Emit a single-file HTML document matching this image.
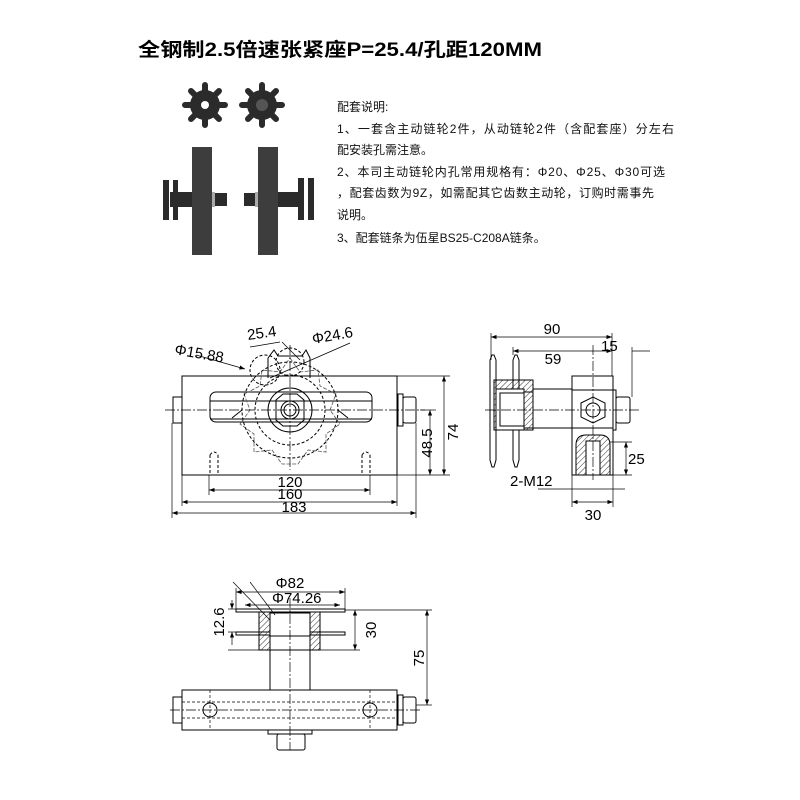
<!DOCTYPE html>
<html><head><meta charset="utf-8"><style>
html,body{margin:0;padding:0;background:#fff;width:800px;height:800px;overflow:hidden}
svg{display:block}
.t{font-family:"Liberation Sans","Noto Sans CJK SC",sans-serif}
.d{font-family:"Liberation Sans",sans-serif;font-size:15px;fill:#000}
</style></head><body>
<svg width="800" height="800" viewBox="0 0 800 800" xmlns="http://www.w3.org/2000/svg">
<defs>
<pattern id="h" width="4" height="4" patternUnits="userSpaceOnUse" patternTransform="rotate(45)"><line x1="0" y1="0" x2="0" y2="4" stroke="#000" stroke-width="0.8"/></pattern>
<marker id="a" markerWidth="8" markerHeight="6" refX="8" refY="3" orient="auto-start-reverse"><path d="M0,0 L8,3 L0,6z" fill="#000"/></marker>
</defs>
<text class="t" x="138" y="56" font-size="19" font-weight="bold" textLength="404" lengthAdjust="spacingAndGlyphs">全钢制2.5倍速张紧座P=25.4/孔距120MM</text>
<g class="t" font-size="12" fill="#111">
<text x="337" y="111">配套说明:</text>
<text x="337" y="133" textLength="337">1、一套含主动链轮2件，从动链轮2件（含配套座）分左右</text>
<text x="337" y="154">配安装孔需注意。</text>
<text x="337" y="176" textLength="328">2、本司主动链轮内孔常用规格有：Φ20、Φ25、Φ30可选</text>
<text x="337" y="197" textLength="317">，配套齿数为9Z，如需配其它齿数主动轮，订购时需事先</text>
<text x="337" y="219">说明。</text>
<text x="337" y="242">3、配套链条为伍星BS25-C208A链条。</text>
</g>
<!-- photos -->
<g fill="#2b2b2b">
<circle cx="205" cy="105" r="15"/><circle cx="262" cy="105" r="15"/>
<g stroke="#2b2b2b" stroke-width="6" stroke-linecap="round">
<path d="M205 85v40M185 105h40M191 91l28 28M219 91l-28 28M262 85v40M242 105h40M248 91l28 28M276 91l-28 28"/></g>
<circle cx="205" cy="105" r="4" fill="#fff"/><circle cx="262" cy="105" r="6" fill="#555"/>
<rect x="192" y="147" width="20" height="108" fill="#3d3d3d"/>
<rect x="258" y="147" width="20" height="108" fill="#3d3d3d"/>
<rect x="170" y="192" width="22" height="15"/><rect x="278" y="192" width="24" height="15"/>
<rect x="163" y="180" width="6" height="40"/><rect x="173" y="180" width="5" height="40"/>
<rect x="298" y="178" width="6" height="42"/><rect x="308" y="178" width="6" height="42"/>
<rect x="215" y="193" width="12" height="13"/><rect x="244" y="193" width="12" height="13"/>
<rect x="212" y="192" width="3" height="15" fill="#aaa"/><rect x="255" y="192" width="3" height="15" fill="#aaa"/>
</g>
<!-- FRONT VIEW -->
<g fill="none" stroke="#000" stroke-width="1">
<rect x="182" y="376" width="215" height="99"/>
<rect x="210" y="392" width="162" height="30" rx="6"/>
<line x1="210" y1="401" x2="372" y2="401"/><line x1="210" y1="419" x2="372" y2="419"/>
<rect x="173" y="397" width="9" height="26"/>
<rect x="398" y="394" width="5" height="32"/><rect x="403" y="397" width="13" height="26" rx="2"/>
<polygon points="276,400 283,394 297,394 304,400 304,420 297,426 283,426 276,420"/>
<circle cx="290" cy="410" r="9"/><circle cx="290" cy="410" r="6"/>
<circle cx="290" cy="410" r="22"/>
<g stroke="#555" stroke-width="0.8">
<path d="M290 358 L300 372 L318 370 L320 386 L336 394 L330 410 L340 424 L326 434 L326 452 L308 450 L298 464 L282 464 L272 450 L254 452 L254 434 L240 424 L250 410 L244 394 L260 386 L262 370 L280 372 Z" stroke-dasharray="4,1.5"/>
</g>
<g stroke-dasharray="3,2">
<circle cx="290" cy="410" r="35"/><circle cx="290" cy="410" r="48"/>
<circle cx="265" cy="370" r="15"/><circle cx="290" cy="362" r="14"/>
<path d="M210 455v20M218 455v20M362 455v20M370 455v20M210 455q4-6 8 0M362 455q4-6 8 0"/>
</g>
<path d="M268 358l6-8 4 6h24l4-6 4 8 0 20M268 358v20"/>
<path d="M232 418l10-8M348 418l-10-8"/>
<g stroke-dasharray="10,2,2,2" stroke-width="0.7"><line x1="165" y1="410" x2="425" y2="410"/><line x1="290" y1="345" x2="290" y2="470"/></g>
<g stroke-width="0.7">
<line x1="209" y1="475" x2="209" y2="495"/><line x1="370" y1="475" x2="370" y2="495"/>
<line x1="182" y1="475" x2="182" y2="506"/><line x1="397" y1="475" x2="397" y2="506"/>
<line x1="172" y1="423" x2="172" y2="518"/><line x1="416" y1="423" x2="416" y2="518"/>
<line x1="209" y1="490" x2="370" y2="490" marker-start="url(#a)" marker-end="url(#a)"/>
<line x1="182" y1="502" x2="397" y2="502" marker-start="url(#a)" marker-end="url(#a)"/>
<line x1="172" y1="513" x2="416" y2="513" marker-start="url(#a)" marker-end="url(#a)"/>
<line x1="397" y1="376" x2="450" y2="376"/><line x1="397" y1="475" x2="450" y2="475"/>
<line x1="420" y1="410" x2="436" y2="410"/>
<line x1="444" y1="376" x2="444" y2="475" marker-start="url(#a)" marker-end="url(#a)"/>
<line x1="430" y1="410" x2="430" y2="475" marker-start="url(#a)" marker-end="url(#a)"/>
<line x1="196" y1="355" x2="245" y2="369" marker-end="url(#a)"/>
<line x1="250" y1="347" x2="280" y2="342"/><line x1="282" y1="342" x2="300" y2="360"/>
<line x1="270" y1="378" x2="350" y2="343"/>
</g>
</g>
<text class="d" x="174" y="354" transform="rotate(10 174 354)">Φ15.88</text>
<text class="d" x="248" y="340" transform="rotate(-8 248 340)">25.4</text>
<text class="d" x="313" y="344" transform="rotate(-10 313 344)">Φ24.6</text>
<text class="d" x="290" y="487" text-anchor="middle">120</text>
<text class="d" x="290" y="499" text-anchor="middle">160</text>
<text class="d" x="294" y="512" text-anchor="middle">183</text>
<text class="d" transform="translate(432 443) rotate(-90)" text-anchor="middle">48.5</text>
<text class="d" transform="translate(458 432) rotate(-90)" text-anchor="middle">74</text>
<!-- SIDE VIEW -->
<g fill="none" stroke="#000" stroke-width="1">
<path d="M490 360l2-5h2l2 5v100l-2 7h-2l-2-7z"/><path d="M513 360l2-5h2l2 5v100l-2 7h-2l-2-7z"/>
<path d="M494 380h39v50h-39z" fill="url(#h)"/>
<rect x="496" y="389" width="28" height="41" fill="#fff"/>
<rect x="500" y="393" width="24" height="33" fill="#fff"/>
<rect x="524" y="392" width="9" height="36"/>
<rect x="533" y="389" width="39" height="39"/>
<rect x="572" y="376" width="41" height="99"/>
<line x1="572" y1="390" x2="613" y2="390"/><line x1="572" y1="428" x2="613" y2="428"/>
<path d="M576 475v-30q0-10 10-10h14q10 0 10 10v30z" fill="url(#h)"/>
<rect x="586" y="441" width="14" height="34" fill="#fff"/>
<polygon points="581,403 593,397 605,403 605,417 593,423 581,417"/>
<circle cx="593" cy="410" r="7"/>
<rect x="613" y="390" width="3" height="40"/><rect x="616" y="397" width="14" height="26" rx="2"/>
<g stroke-dasharray="10,2,2,2" stroke-width="0.7"><line x1="485" y1="410" x2="640" y2="410"/><line x1="593" y1="345" x2="593" y2="480"/></g>
<g stroke-width="0.7">
<line x1="491" y1="333" x2="491" y2="360"/><line x1="612" y1="333" x2="612" y2="376"/><line x1="513" y1="347" x2="513" y2="355"/><line x1="632" y1="347" x2="632" y2="397"/>
<line x1="491" y1="337" x2="612" y2="337" marker-start="url(#a)" marker-end="url(#a)"/>
<line x1="513" y1="351" x2="592" y2="351" marker-start="url(#a)"/>
<line x1="592" y1="351" x2="612" y2="351" marker-end="url(#a)"/><line x1="632" y1="351" x2="650" y2="351"/>
<line x1="610" y1="442" x2="632" y2="442"/><line x1="610" y1="475" x2="632" y2="475"/>
<line x1="626" y1="442" x2="626" y2="475" marker-start="url(#a)" marker-end="url(#a)"/>
<line x1="538" y1="489" x2="625" y2="489"/>
<line x1="572" y1="475" x2="572" y2="507"/><line x1="613" y1="475" x2="613" y2="507"/>
<line x1="572" y1="502" x2="613" y2="502" marker-start="url(#a)" marker-end="url(#a)"/>
</g>
</g>
<text class="d" x="552" y="334" text-anchor="middle">90</text>
<text class="d" x="553" y="364" text-anchor="middle">59</text>
<text class="d" x="601" y="351">15</text>
<text class="d" x="628" y="464">25</text>
<text class="d" x="510" y="486">2-M12</text>
<text class="d" x="593" y="520" text-anchor="middle">30</text>
<!-- TOP VIEW -->
<g fill="none" stroke="#000" stroke-width="1">
<rect x="236" y="609" width="109" height="3"/><rect x="236" y="632" width="109" height="3"/>
<path d="M259 612h61v38h-61z" fill="url(#h)"/>
<rect x="270" y="613" width="40" height="37" fill="#fff"/>
<rect x="270" y="636" width="40" height="14"/>
<rect x="270" y="650" width="40" height="40"/>
<rect x="182" y="690" width="215" height="40"/>
<rect x="173" y="697" width="9" height="26"/>
<rect x="398" y="695" width="5" height="30"/><rect x="403" y="697" width="13" height="26" rx="2"/>
<rect x="268" y="730" width="44" height="4"/><rect x="277" y="734" width="28" height="16" rx="2"/>
<circle cx="210" cy="710" r="7"/><circle cx="370" cy="710" r="7"/>
<g stroke-dasharray="3,2" stroke-width="0.7"><line x1="182" y1="702" x2="397" y2="702"/><line x1="182" y1="718" x2="397" y2="718"/><line x1="210" y1="690" x2="210" y2="730"/><line x1="370" y1="690" x2="370" y2="730"/></g>
<g stroke-dasharray="10,2,2,2" stroke-width="0.7"><line x1="170" y1="710" x2="420" y2="710"/><line x1="290" y1="598" x2="290" y2="750"/></g>
<g stroke-width="0.7">
<line x1="236" y1="588" x2="236" y2="609"/><line x1="345" y1="588" x2="345" y2="609"/>
<line x1="236" y1="592" x2="345" y2="592" marker-start="url(#a)" marker-end="url(#a)"/>
<line x1="245" y1="605" x2="340" y2="605" marker-start="url(#a)" marker-end="url(#a)"/>
<line x1="233" y1="582" x2="270" y2="620"/><line x1="250" y1="582" x2="275" y2="615"/>
<line x1="228" y1="609" x2="236" y2="609"/><line x1="228" y1="632" x2="236" y2="632"/><line x1="228" y1="650" x2="259" y2="650"/>
<line x1="232" y1="600" x2="232" y2="609" marker-end="url(#a)"/><line x1="232" y1="645" x2="232" y2="632" marker-end="url(#a)"/>
<line x1="345" y1="610" x2="432" y2="610"/><line x1="320" y1="650" x2="360" y2="650"/><line x1="416" y1="705" x2="432" y2="705"/>
<line x1="355" y1="610" x2="355" y2="650" marker-start="url(#a)" marker-end="url(#a)"/>
<line x1="427" y1="610" x2="427" y2="705" marker-start="url(#a)" marker-end="url(#a)"/>
</g>
</g>
<text class="d" x="290" y="588" text-anchor="middle">Φ82</text>
<text class="d" x="272" y="603" font-size="13">Φ74.26</text>
<text class="d" transform="translate(224 622) rotate(-90)" text-anchor="middle">12.6</text>
<text class="d" transform="translate(376 630) rotate(-90)" text-anchor="middle">30</text>
<text class="d" transform="translate(424 658) rotate(-90)" text-anchor="middle">75</text>
</svg>
</body></html>
